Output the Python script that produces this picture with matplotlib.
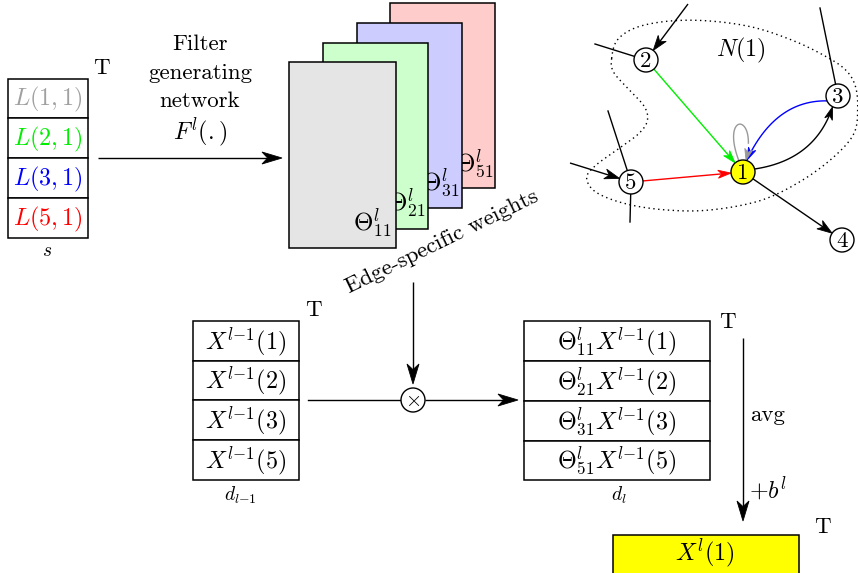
import numpy as np
import matplotlib
matplotlib.use("Agg")
import matplotlib.pyplot as plt
from matplotlib.patches import Rectangle, Circle, Polygon

plt.rcParams['mathtext.fontset'] = 'cm'
plt.rcParams['axes.unicode_minus'] = False

# ---- content ----
s_labels = [r'$L(1,1)$', r'$L(2,1)$', r'$L(3,1)$', r'$L(5,1)$']
s_colors = ['#a0a0a0', '#00ee00', '#0000ff', '#ff0000']
x_labels = [r'$X^{l{-}1}(1)$', r'$X^{l{-}1}(2)$', r'$X^{l{-}1}(3)$', r'$X^{l{-}1}(5)$']
tx_labels = [r'$\Theta^l_{11}X^{l{-}1}(1)$', r'$\Theta^l_{21}X^{l{-}1}(2)$',
             r'$\Theta^l_{31}X^{l{-}1}(3)$', r'$\Theta^l_{51}X^{l{-}1}(5)$']
theta_labels = [r'$\Theta^l_{11}$', r'$\Theta^l_{21}$', r'$\Theta^l_{31}$', r'$\Theta^l_{51}$']
sheet_colors = ['#e5e5e5', '#ccffcc', '#ccccff', '#ffcccc']
filter_lines = ['Filter', 'generating', 'network']
node_names = ['1', '2', '3', '4', '5']

# ---- layout (pixel coordinates) ----
W, H = 858, 573
fig = plt.figure(figsize=(W / 100, H / 100), dpi=100)
ax = fig.add_axes([0, 0, 1, 1])
ax.set_xlim(0, W)
ax.set_ylim(H, 0)
ax.axis('off')

FS = 16.5      # roman text
MS = 17.3      # math text
SS = 14        # small labels
RM = dict(family='cmr10')


def stealth(tip, d, L=20, Wd=12, color='k', z=5):
    d = np.asarray(d, float)
    d = d / np.hypot(*d)
    n = np.array([-d[1], d[0]])
    tip = np.asarray(tip, float)
    pts = [tip, tip - d * L + n * Wd / 2, tip - d * L * 0.72, tip - d * L - n * Wd / 2]
    ax.add_patch(Polygon(pts, closed=True, fc=color, ec=color, lw=0.6, zorder=z))


def arrow(p0, p1, L=20, Wd=12, color='k', lw=1.0, z=4):
    p0 = np.asarray(p0, float); p1 = np.asarray(p1, float)
    d = p1 - p0
    u = d / np.hypot(*d)
    end = p1 - u * L * 0.7
    ax.plot([p0[0], end[0]], [p0[1], end[1]], color=color, lw=lw, zorder=z, solid_capstyle='butt')
    stealth(p1, d, L, Wd, color, z + 1)


def column(x0, x1, ys, labels, colors=None, fs=MS, fc='white'):
    for i in range(len(labels)):
        ax.add_patch(Rectangle((x0, ys[i]), x1 - x0, ys[i + 1] - ys[i], fc=fc, ec='k', lw=1.1, zorder=2))
        c = colors[i] if colors else 'k'
        ax.text((x0 + x1) / 2, (ys[i] + ys[i + 1]) / 2 + 1, labels[i], ha='center', va='center',
                fontsize=fs, color=c, zorder=3)


# left column s
column(8, 88, [79, 118, 158, 198, 238], s_labels, s_colors)
ax.text(101, 68, 'T', ha='center', va='center', fontsize=FS, **RM)
ax.text(47, 250, r'$s$', ha='center', va='center', fontsize=SS)

# filter generating network
for i, (t, yb) in enumerate(zip(filter_lines, [50, 79, 107])):
    ax.text(200, yb, t, ha='center', va='baseline', fontsize=FS, **RM)
ax.text(200, 132, r'$F^l(.)$', ha='center', va='center', fontsize=MS)
arrow((98, 158), (282, 158))

# weight sheets
sheets = [(289, 396, 62, 248), (323, 428, 43, 229), (357, 462, 23, 208), (390, 495, 3, 188)]
tpos = [(372, 224), (406, 204), (440, 183), (474, 164)]
for k in range(3, -1, -1):
    x0, x1, y0, y1 = sheets[k]
    ax.add_patch(Rectangle((x0, y0), x1 - x0, y1 - y0, fc=sheet_colors[k], ec='k', lw=1.1, zorder=2 + (3 - k) * 0.1))
    ax.text(tpos[k][0], tpos[k][1], theta_labels[k], ha='center', va='center', fontsize=18,
            zorder=2.05 + (3 - k) * 0.1)

ax.text(442, 242, 'Edge-specific weights', ha='center', va='center', rotation=26,
        rotation_mode='anchor', fontsize=FS, **RM)

# down arrow to otimes
arrow((413, 282), (413, 384))
ox, oy, orad = 413, 400, 12
ax.add_patch(Circle((ox, oy), orad, fc='white', ec='k', lw=1.0, zorder=4))
ax.text(ox, oy + 0.5, r'$\times$', ha='center', va='center', fontsize=15, zorder=5)
ax.plot([308, ox - orad], [oy, oy], color='k', lw=1.0)
arrow((ox + orad, oy), (518, oy))

# X column
column(193, 299, [321, 361, 400, 440, 480], x_labels)
ax.text(313, 310, 'T', ha='center', va='center', fontsize=FS, **RM)
ax.text(240, 495, r'$d_{l{-}1}$', ha='center', va='center', fontsize=SS)

# Theta X column
column(524, 710, [321, 361, 401, 441, 480], tx_labels)
ax.text(727, 322, 'T', ha='center', va='center', fontsize=FS, **RM)
ax.text(619, 495, r'$d_l$', ha='center', va='center', fontsize=SS)

# avg arrow
arrow((743, 338), (743, 521))
ax.text(768, 415, 'avg', ha='center', va='center', fontsize=FS, **RM)
ax.text(768, 490, r'$+b^l$', ha='center', va='center', fontsize=MS)

# output
ax.add_patch(Rectangle((613, 535), 186, 60, fc='#ffff00', ec='k', lw=1.1, zorder=2, clip_on=True))
ax.text(705, 553, r'$X^l(1)$', ha='center', va='center', fontsize=MS, zorder=3)
ax.text(822, 527, 'T', ha='center', va='center', fontsize=FS, **RM)

# ---- graph ----
gx = lambda px: 560 + px / 3.0
gy = lambda py: py / 3.0
region_px = [(155, 175), (160, 215), (200, 262), (252, 318), (262, 362), (235, 402), (170, 450),
             (105, 498), (80, 535), (110, 578), (200, 612), (320, 630), (450, 630), (600, 602),
             (720, 545), (820, 472), (882, 400), (893, 320), (885, 255), (855, 208), (795, 168),
             (700, 122), (580, 82), (450, 63), (330, 63), (230, 82), (172, 120)]
P = np.array([(gx(a), gy(b)) for a, b in region_px])
n = len(P)
curve = []
for i in range(n):
    p0, p1, p2, p3 = P[i - 1], P[i], P[(i + 1) % n], P[(i + 2) % n]
    for t in np.linspace(0, 1, 12, endpoint=False):
        t2, t3 = t * t, t * t * t
        curve.append(0.5 * ((2 * p1) + (-p0 + p2) * t + (2 * p0 - 5 * p1 + 4 * p2 - p3) * t2
                            + (-p0 + 3 * p1 - 3 * p2 + p3) * t3))
curve.append(curve[0])
curve = np.array(curve)
ax.plot(curve[:, 0], curve[:, 1], color='k', lw=1.0, ls=(0, (1, 2.5)), zorder=1)
ax.text(741, 50, r'$N(1)$', ha='center', va='center', fontsize=MS)

nodes = {'1': (743, 172), '2': (646, 60), '3': (838, 96), '4': (842, 240), '5': (631, 182)}
R = 12


def bpt(name, toward):
    c = np.array(nodes[name], float)
    d = np.asarray(toward, float) - c
    return c + d / np.hypot(*d) * R


def edge(a, b, color='k', L=13, Wd=8, lw=1.0):
    pa = bpt(a, nodes[b]); pb = bpt(b, nodes[a])
    arrow(pa, pb, L, Wd, color, lw, z=3)


# external lines
arrow((688, 4), bpt('2', (688, 4)), 15, 10)
ax.plot([595, bpt('2', (595, 44))[0]], [44, bpt('2', (595, 44))[1]], color='k', lw=1.0)
ax.plot([820, bpt('3', (820, 8))[0]], [8, bpt('3', (820, 8))[1]], color='k', lw=1.0)
arrow((570, 163), bpt('5', (570, 163)), 15, 10)
ax.plot([608, bpt('5', (608, 111))[0]], [111, bpt('5', (608, 111))[1]], color='k', lw=1.0)
ax.plot([630, bpt('5', (630, 222))[0]], [222, bpt('5', (630, 222))[1]], color='k', lw=1.0)

edge('2', '1', '#00ee00')
edge('5', '1', '#ff0000')
edge('1', '4', 'k', 15, 10)


def curved(p0, p1, ctrl, color, L=13, Wd=8):
    p0 = np.asarray(p0, float); p1 = np.asarray(p1, float); c = np.asarray(ctrl, float)
    t = np.linspace(0, 1, 60)
    pts = ((1 - t) ** 2)[:, None] * p0 + (2 * (1 - t) * t)[:, None] * c + (t ** 2)[:, None] * p1
    d = p1 - c
    d = d / np.hypot(*d)
    keep = np.hypot(*(pts - p1).T) > L * 0.7
    ax.plot(pts[keep, 0], pts[keep, 1], color=color, lw=1.0, zorder=3)
    stealth(p1, d, L, Wd, color, 4)


# 3 -> 1 blue (upper), 1 -> 3 black (lower)
curved(bpt('3', (820, 104)), bpt('1', (750, 150)), (775, 100), '#0000ff')
curved(bpt('1', (770, 165)), bpt('3', (830, 112)), (815, 160), 'k')
# self loop gray
t = np.linspace(0, 1, 60)
b0, b1, b2, b3 = np.array([739, 161.]), np.array([720, 112.]), np.array([758, 112.]), np.array([746, 160.])
loop = ((1 - t) ** 3)[:, None] * b0 + (3 * (1 - t) ** 2 * t)[:, None] * b1 + (3 * (1 - t) * t ** 2)[:, None] * b2 + (t ** 3)[:, None] * b3
ax.plot(loop[:-8, 0], loop[:-8, 1], color='#999999', lw=1.0, zorder=3)
stealth(b3, b3 - b2, 11, 8, '#999999', 4)

for name, (cx, cy) in nodes.items():
    ax.add_patch(Circle((cx, cy), R, fc='#ffff00' if name == '1' else 'white', ec='k', lw=1.0, zorder=6))
    ax.text(cx, cy + 1, name, ha='center', va='center', fontsize=FS, zorder=7, **RM)

fig.savefig('out.png', dpi=100)
